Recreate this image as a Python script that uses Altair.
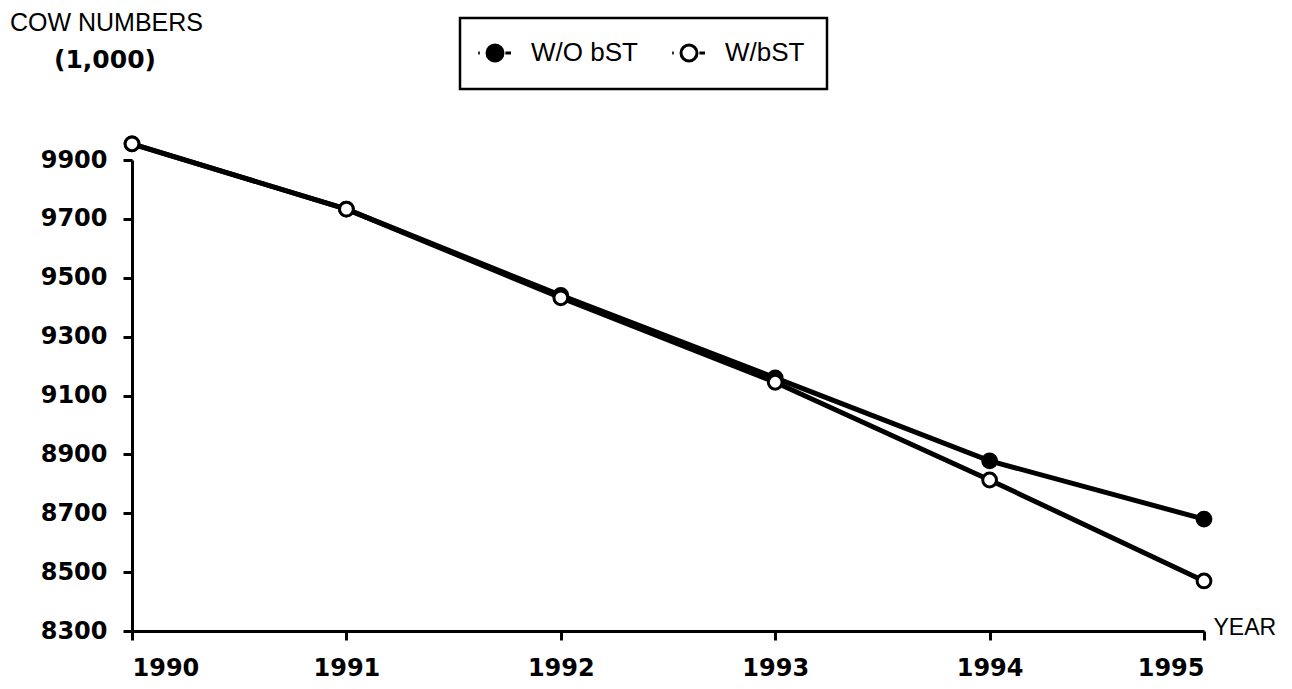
import altair as alt
import pandas as pd

years = [1990, 1991, 1992, 1993, 1994, 1995]
without_bst = [9955, 9733, 9440, 9160, 8878, 8680]
with_bst = [9955, 9733, 9432, 9145, 8813, 8470]
series_names = ["W/O bST", "W/bST"]
series_fills = ["black", "white"]
y_ticks = [8300, 8500, 8700, 8900, 9100, 9300, 9500, 9700, 9900]
unit_label = ["(1,000)"]

rows = []
for name, vals in zip(series_names, [without_bst, with_bst]):
    for yr, v in zip(years, vals):
        rows.append({"year": yr, "cows": v, "series": name})
df = pd.DataFrame(rows)

num_font = "DejaVu Sans"
txt_font = "Liberation Sans"

x_enc = alt.X(
    "year:Q",
    scale=alt.Scale(domain=[1990, 1995], nice=False, zero=False),
    axis=alt.Axis(
        values=years, format="d", title="YEAR",
        titleX=1081, titleY=-4, titleAlign="left", titleBaseline="middle",
        titleFont=txt_font, titleFontSize=23, titleFontWeight="normal",
        labelFont=num_font, labelFontSize=24, labelFontWeight="bold",
        labelPadding=16, tickSize=9, tickWidth=3, domainWidth=3,
        labelColor="black", tickColor="black", domainColor="black",
        titleColor="black", grid=False,
    ),
)
y_enc = alt.Y(
    "cows:Q",
    scale=alt.Scale(domain=[8300, 9900], nice=False, zero=False),
    axis=alt.Axis(
        values=y_ticks, format="d", title="COW NUMBERS",
        titleAngle=0, titleX=-26, titleY=-150, titleAlign="center",
        titleBaseline="top",
        titleFont=txt_font, titleFontSize=25, titleFontWeight="normal",
        labelFont=num_font, labelFontSize=24, labelFontWeight="bold",
        labelPadding=16, tickSize=9, tickWidth=3, domainWidth=3,
        labelColor="black", tickColor="black", domainColor="black",
        titleColor="black", grid=False,
    ),
)

lines = alt.Chart(df).mark_line(color="black", strokeWidth=5).encode(
    x=x_enc, y=y_enc, detail="series:N"
)

legend_symbol = (
    "M -1,0 A 1,1 0 1,1 1,0 A 1,1 0 1,1 -1,0 Z "
    "M 1.3,0 L 2.0,0 M -2.1,0 L -1.9,0"
)

points = alt.Chart(df).mark_circle(
    size=190, stroke="black", strokeWidth=3, opacity=1
).encode(
    x=x_enc,
    y=y_enc,
    fill=alt.Fill(
        "series:N",
        scale=alt.Scale(domain=series_names, range=series_fills),
        sort=series_names,
        legend=alt.Legend(
            orient="none", legendX=328, legendY=-142, direction="horizontal",
            title=None, strokeColor="black", padding=22,
            labelFont=txt_font, labelFontSize=26, labelColor="black",
            symbolType=legend_symbol, symbolSize=256,
            symbolStrokeColor="black", symbolStrokeWidth=3,
            symbolOpacity=1, labelOffset=23, columnPadding=28,
            gridAlign="all",
        ),
    ),
)

unit_text = alt.Chart(pd.DataFrame({"t": unit_label})).mark_text(
    font=num_font, fontSize=25, fontWeight="bold", color="black",
    align="center", baseline="middle",
).encode(text="t:N", x=alt.value(-27), y=alt.value(-100))

chart = (
    alt.layer(lines, points, unit_text)
    .properties(
        width=1072,
        height=471,
        autosize=alt.AutoSizeParams(type="none"),
        padding={"left": 124, "top": 152, "right": 80, "bottom": 52},
    )
    .configure(background="white")
    .configure_view(stroke="transparent", strokeWidth=0)
    .configure_legend(strokeWidth=2.5)
)

chart.save("out.html", embed_options={"renderer": "svg", "actions": False})
